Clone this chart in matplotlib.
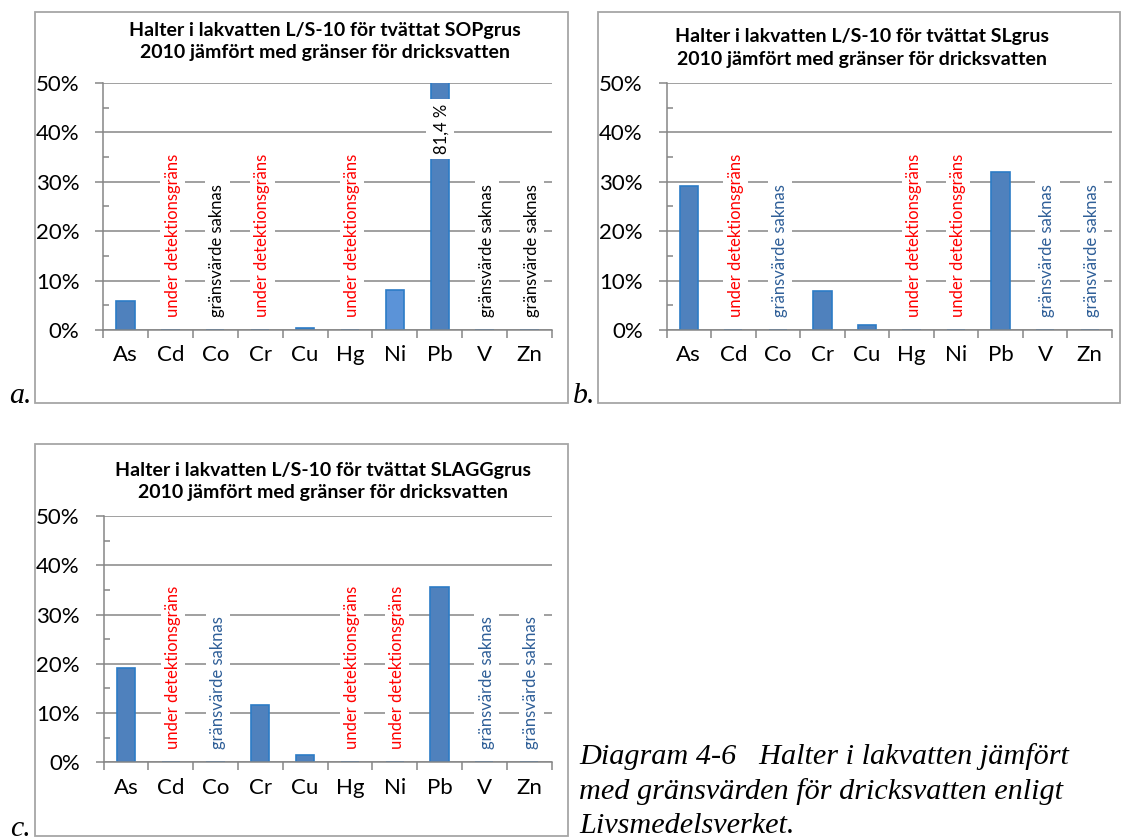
import matplotlib
matplotlib.use("Agg")
import matplotlib.pyplot as plt
from matplotlib.patches import Rectangle
import numpy as np

# ---------------- data ----------------
categories = ["As", "Cd", "Co", "Cr", "Cu", "Hg", "Ni", "Pb", "V", "Zn"]

values_a = [5.9, 0, 0, 0, 0.5, 0, 8.0, 81.4, 0, 0]
values_b = [29.2, 0, 0, 7.8, 1.0, 0, 0, 31.9, 0, 0]
values_c = [19.1, 0, 0, 11.7, 1.4, 0, 0, 35.6, 0, 0]

# notes: "u" = under detektionsgräns, "s" = gränsvärde saknas
notes_a = ["", "u", "s", "u", "", "u", "", "", "s", "s"]
notes_b = ["", "u", "s", "", "", "u", "u", "", "s", "s"]
notes_c = ["", "u", "s", "", "", "u", "u", "", "s", "s"]

titles = [
    "Halter i lakvatten L/S-10 för tvättat SOPgrus\n2010 jämfört med gränser för dricksvatten",
    "Halter i lakvatten L/S-10 för tvättat SLgrus\n2010 jämfört med gränser för dricksvatten",
    "Halter i lakvatten L/S-10 för tvättat SLAGGgrus\n2010 jämfört med gränser för dricksvatten",
]
yticks = [0, 10, 20, 30, 40, 50]
ytick_labels = ["0%", "10%", "20%", "30%", "40%", "50%"]
pb_label = "81,4 %"
caption_lines = ["Diagram 4-6   Halter i lakvatten jämfört",
                 "med gränsvärden för dricksvatten enligt",
                 "Livsmedelsverket."]
panel_letters = ["a.", "b.", "c."]

note_text = {"u": "under detektionsgräns", "s": "gränsvärde saknas"}

# ---------------- style ----------------
W, H = 1121, 840
FONT = "Lato"
GRAY = "#868686"
BOX = "#A6A6A6"
FILL = "#4F81BD"
EDGE = "#2C7BC6"
FILL_LIGHT = "#5B93D8"
RED = "#FF0000"
BLUE = "#2F5F98"

fig = plt.figure(figsize=(W / 100, H / 100), dpi=100)
fig.patch.set_facecolor("white")


def rect(l, r, t, b):
    return [l / W, 1 - b / H, (r - l) / W, (b - t) / H]


def box(x0, x1, y0, y1):
    fig.patches.append(Rectangle((x0 / W, 1 - y1 / H), (x1 - x0) / W, (y1 - y0) / H,
                                 transform=fig.transFigure, fill=False,
                                 ec=BOX, lw=1.3))


def panel(ax_rect, values, notes, saknas_color, light_idx=None, pb_break=None):
    ax = fig.add_axes(ax_rect)
    x = np.arange(len(categories))
    colors = [FILL] * len(categories)
    if light_idx is not None:
        colors[light_idx] = FILL_LIGHT
    ax.bar(x, values, width=0.41, color=colors, edgecolor=EDGE, lw=1.2, zorder=2)
    ax.set_xlim(-0.5, len(categories) - 0.5)
    ax.set_ylim(0, 50)
    ax.yaxis.grid(True, color=GRAY, lw=1.1)
    ax.set_axisbelow(True)
    for s in ["top", "right"]:
        ax.spines[s].set_visible(False)
    for s in ["left", "bottom"]:
        ax.spines[s].set_color(GRAY)
        ax.spines[s].set_linewidth(1.1)
    ax.set_yticks(yticks)
    ax.set_yticklabels(ytick_labels, fontsize=16, family=FONT)
    ax.set_yticks(np.arange(5, 50, 10), minor=True)
    ax.tick_params(axis="y", which="major", length=6, width=1.1, color=GRAY,
                   direction="out", pad=11)
    ax.tick_params(axis="y", which="minor", length=4, width=1.1, color=GRAY,
                   direction="in")
    ax.set_xticks(x)
    ax.set_xticklabels(categories, fontsize=16, family=FONT)
    ax.set_xticks(np.arange(-0.5, len(categories), 1), minor=True)
    ax.tick_params(axis="x", which="major", length=0, pad=11)
    ax.tick_params(axis="x", which="minor", length=6, width=1.1, color=GRAY,
                   direction="out")
    for i, n in enumerate(notes):
        if not n:
            continue
        col = RED if n == "u" else saknas_color
        ax.text(i + 0.05, 2.6, note_text[n], rotation=90, ha="center", va="bottom",
                color=col, fontsize=12, family=FONT, zorder=3,
                bbox=dict(fc="white", ec="none", pad=3))
    if pb_break is not None:
        i, lo, hi = pb_break
        ax.add_patch(Rectangle((i - 0.315, lo), 0.63, hi - lo, fc="white",
                               ec="none", zorder=3))
        ax.text(i + 0.05, (lo + hi) / 2, pb_label, rotation=90, ha="center",
                va="center", fontsize=12, family=FONT, color="black", zorder=4)
    return ax


# panel a
box(35, 568, 12, 403)
panel(rect(103, 552, 83, 330), values_a, notes_a, "black", light_idx=6,
      pb_break=(7, 34.6, 46.8))
fig.text(325 / W, 1 - 41.5 / H, titles[0], ha="center", va="center",
         fontsize=14, fontweight="bold", family=FONT, linespacing=1.4)

# panel b
box(598, 1120, 12, 403)
panel(rect(666.5, 1112, 83, 330), values_b, notes_b, BLUE)
fig.text(862 / W, 1 - 48 / H, titles[1], ha="center", va="center",
         fontsize=14, fontweight="bold", family=FONT, linespacing=1.4)

# panel c
box(35, 568, 444, 836)
panel(rect(103.5, 551.5, 516, 762.3), values_c, notes_c, BLUE)
fig.text(323 / W, 1 - 481.5 / H, titles[2], ha="center", va="center",
         fontsize=14, fontweight="bold", family=FONT, linespacing=1.4)

# panel letters
for (lx, ly), letter in zip([(9, 403), (573, 403), (10, 836)], panel_letters):
    fig.text(lx / W, 1 - ly / H, letter, ha="left", va="baseline",
             family="Liberation Serif", style="italic", fontsize=21.5)

# caption
for yy, line in zip([757, 792, 826], caption_lines):
    fig.text(579 / W, 1 - yy / H, line, ha="left", va="center",
             family="Liberation Serif", style="italic", fontsize=21.8)

fig.savefig("out.png", dpi=100, facecolor="white")
